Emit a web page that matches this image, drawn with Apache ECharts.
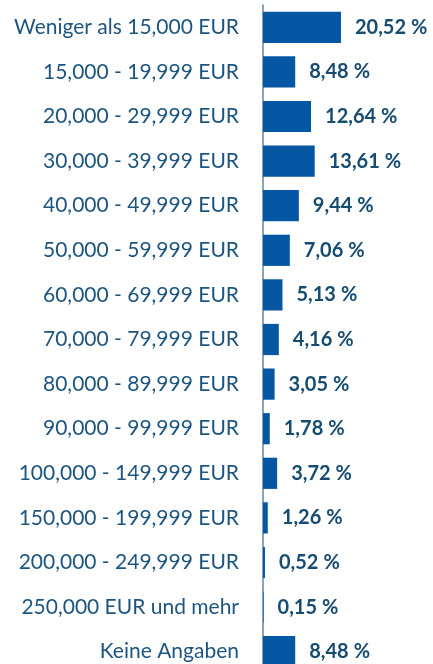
<!DOCTYPE html>
<html>
<head>
<meta charset="utf-8">
<script src="https://cdn.jsdelivr.net/npm/echarts@6/dist/echarts.min.js"></script>
<style>
  html, body { margin: 0; padding: 0; background: #fff; overflow: hidden; }
  /* the source picture cuts the last bar off, so the chart is taller than the window */
  #chart { width: 433px; height: 674px; }
</style>
</head>
<body>
<div id="chart"></div>
<script>
var categories = [
  'Weniger als 15,000 EUR',
  '15,000 - 19,999 EUR',
  '20,000 - 29,999 EUR',
  '30,000 - 39,999 EUR',
  '40,000 - 49,999 EUR',
  '50,000 - 59,999 EUR',
  '60,000 - 69,999 EUR',
  '70,000 - 79,999 EUR',
  '80,000 - 89,999 EUR',
  '90,000 - 99,999 EUR',
  '100,000 - 149,999 EUR',
  '150,000 - 199,999 EUR',
  '200,000 - 249,999 EUR',
  '250,000 EUR und mehr',
  'Keine Angaben'
]
var shares = [20.52, 8.48, 12.64, 13.61, 9.44, 7.06, 5.13, 4.16, 3.05, 1.78, 3.72, 1.26, 0.52, 0.15, 8.48]

var chart = echarts.init(document.getElementById('chart'))
chart.setOption({
  animation: false,
  grid: {
    left: 263,
    top: 5,
    width: 152,
    height: 669
  },
  xAxis: {
    type: 'value',
    min: 0,
    max: 40,
    show: false
  },
  yAxis: {
    type: 'category',
    inverse: true,
    data: categories,
    axisTick: { show: false },
    axisLine: {
      show: true,
      lineStyle: { color: '#5f87a5', width: 1.5 }
    },
    axisLabel: {
      margin: 24,
      color: '#1c5580',
      fontFamily: 'Lato',
      fontSize: 21
    }
  },
  series: [
    {
      type: 'bar',
      data: shares,
      barCategoryGap: '30%',
      itemStyle: { color: '#0657a3' },
      label: {
        show: true,
        position: 'right',
        distance: 14,
        color: '#164b72',
        fontFamily: 'Lato',
        fontWeight: 'bold',
        fontSize: 20,
        formatter: function(p) {
          return p.value.toFixed(2).replace('.', ',') + '\u202f%'
        }
      }
    }
  ]
})
</script>
</body>
</html>
